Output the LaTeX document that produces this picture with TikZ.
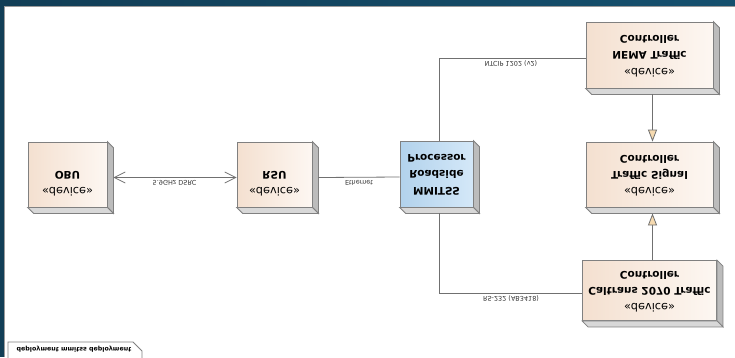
\documentclass[tikz,border=0pt]{standalone}
\usepackage{fontspec}
\setmainfont{DejaVu Sans}
\usetikzlibrary{arrows.meta}
\definecolor{band}{RGB}{18,62,86}
\definecolor{bandR}{RGB}{21,80,110}
\definecolor{edge}{RGB}{128,128,128}
\definecolor{peachL}{RGB}{244,224,208}
\definecolor{peachR}{RGB}{253,247,242}
\definecolor{blueL}{RGB}{178,210,236}
\definecolor{blueR}{RGB}{212,232,248}
\definecolor{sideR}{RGB}{188,188,188}
\definecolor{sideB}{RGB}{216,216,216}
\definecolor{connc}{RGB}{112,112,112}
\definecolor{genfill}{RGB}{246,218,176}
\newcommand{\myflip}[1]{\scalebox{1}[-1]{#1}}
\newcommand{\stereo}{{\fontsize{11.3}{12.5}\selectfont «device»}}
\renewcommand{\arraystretch}{1.3}
\begin{document}
\begin{tikzpicture}[x=1pt,y=-1pt,
  devbox/.style={draw=edge, line width=0.8pt, left color=peachL, right color=peachR, inner sep=0pt, font=\fontsize{10.5}{12.5}\selectfont},
  procbox/.style={devbox, left color=blueL, right color=blueR},
  sidebox/.style={draw=edge, line width=0.8pt, fill=sideR},
  bottombox/.style={draw=edge, line width=0.8pt, fill=sideB},
  connline/.style={draw=connc, line width=0.8pt},
  lbl/.style={font=\fontsize{6.5}{7.5}\selectfont, text=black!80, inner sep=0pt},
  gen/.style={connline, -{Triangle[length=12pt,width=9pt,fill=genfill]}},
  assoc/.style={connline, {Straight Barb[length=11pt,width=11pt]}-{Straight Barb[length=11pt,width=11pt]}},
]
\useasboundingbox (0,0) rectangle (735,357);
\fill[white] (0,0) rectangle (735,357);
\shade[left color=band,right color=bandR] (0,0) rectangle (735,6);
\fill[band] (0,0) rectangle (4,357);
\draw[edge!80, line width=1pt] (4.5,357) -- (4.5,6.5) -- (735,6.5);

% devices (drawn vertically mirrored, as in the reference)
\node[devbox, minimum width=79pt, minimum height=65pt] (obu) at (67.5,174.5)
  {\myflip{\begin{tabular}{c}\stereo\\\bfseries OBU\\ \mbox{}\end{tabular}}};
\node[devbox, minimum width=75pt, minimum height=65pt] (rsu) at (274.5,174.5)
  {\myflip{\begin{tabular}{c}\stereo\\\bfseries RSU\\ \mbox{}\end{tabular}}};
\node[procbox, minimum width=73pt, minimum height=66pt] (mmitss) at (436.5,174)
  {\myflip{\begin{tabular}{c}\bfseries MMITSS\\\bfseries Roadside\\\bfseries Processor\end{tabular}}};
\node[devbox, minimum width=127pt, minimum height=66pt] (nema) at (649.5,55)
  {\myflip{\begin{tabular}{c}\stereo\\\bfseries NEMA Traffic\\\bfseries Controller\end{tabular}}};
\node[devbox, minimum width=127pt, minimum height=65pt] (tsc) at (649.5,174.5)
  {\myflip{\begin{tabular}{c}\stereo\\\bfseries Traffic Signal\\\bfseries Controller\end{tabular}}};
\node[devbox, minimum width=127pt, minimum height=60pt] (cal) at (649.5,290.5)
  {\myflip{\begin{tabular}{c}\stereo\\\bfseries Caltrans 2070 Traffic\\\bfseries Controller\end{tabular}}};

\foreach \n in {obu,rsu,mmitss,nema,tsc,cal}{
  \draw[sidebox] (\n.north east) -- ++(6,6) -- ([shift={(6,6)}]\n.south east) -- (\n.south east) -- cycle;
  \draw[bottombox] (\n.south west) -- ([shift={(6,6)}]\n.south west) -- ([shift={(6,6)}]\n.south east) -- (\n.south east) -- cycle;
}

% connectors
\draw[assoc] ([shift={(6,3)}]obu.east) -- ([shift={(0,3)}]rsu.west);
\node[lbl] (l1) at (174.5,183) {\myflip{5.9GHz DSRC}};
\draw[connline] ([shift={(6,3)}]rsu.east) -- ([shift={(0,3)}]mmitss.west);
\node[lbl] (l2) at (359,183) {\myflip{Ethernet}};
\draw[connline] ([shift={(3,0)}]mmitss.north) |- ([shift={(0,3)}]nema.west);
\node[lbl] (l3) at (511,64) {\myflip{NTCIP 1202 (v2)}};
\draw[connline] ([shift={(3,6)}]mmitss.south) |- ([shift={(0,3)}]cal.west);
\node[lbl] (l4) at (511,299) {\myflip{RS-232 (AB3418)}};
\draw[gen] ([shift={(3,6)}]nema.south) -- ([shift={(3,0)}]tsc.north);
\draw[gen] ([shift={(3,0)}]cal.north) -- ([shift={(3,6)}]tsc.south);

% frame tab
\draw[edge, fill=white, line width=0.8pt] (8,358) -- (8,342) -- (133,342) -- (142,351) -- (142,358);
\node[font=\fontsize{6.3}{7}\selectfont\bfseries, inner sep=0pt] (tab) at (74,349.5) {\myflip{deployment mmitss deployment}};
\end{tikzpicture}
\end{document}
